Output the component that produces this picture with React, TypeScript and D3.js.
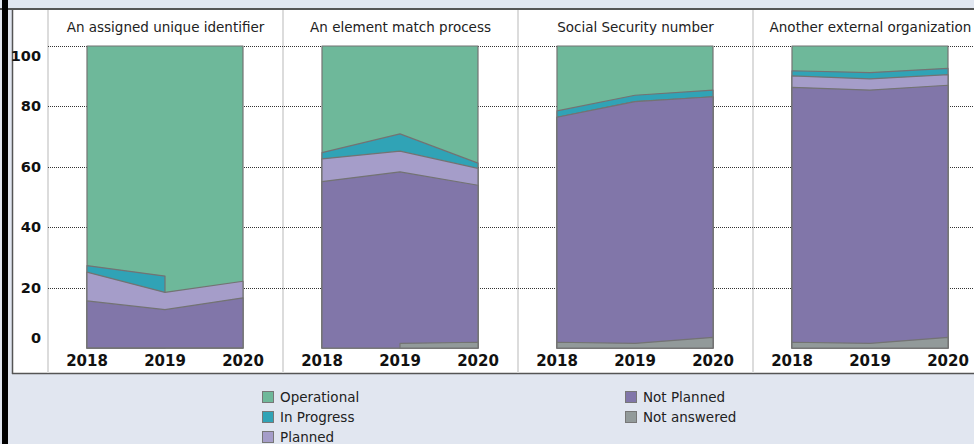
import React from 'react';
import * as d3 from 'd3';

const years = ['2018', '2019', '2020'];
const facets = [
  'An assigned unique identifier',
  'An element match process',
  'Social Security number',
  'Another external organization',
];
// Per facet, per year (percent). null = not reported for that year.
const notAnswered = [[0, 0, 0], [null, 1.5, 1.9], [1.9, 1.5, 3.5], [1.9, 1.5, 3.5]];
const notPlanned = [[15.6, 12.7, 16.6], [55.1, 56.8, 52.0], [74.5, 80.1, 79.7], [84.4, 83.9, 83.5]];
const planned = [[9.5, 5.7, 5.5], [7.5, 6.9, 5.6], [0, 0, 0], [3.8, 3.7, 3.5]];
const inProgress = [[2.2, 5.4, null], [2.1, 5.7, 1.7], [2.1, 2.1, 2.2], [1.7, 2.1, 2.1]];
const operational = [[72.7, 76.2, 77.9], [35.3, 29.1, 38.8], [21.5, 16.3, 14.6], [8.2, 8.8, 7.4]];

const seriesNames = ['Not answered', 'Not Planned', 'Planned', 'In Progress', 'Operational'];
const seriesValues = [notAnswered, notPlanned, planned, inProgress, operational];
const seriesColors = ['#929a9a', '#8176a9', '#a59dc9', '#30a3b6', '#6eb89a'];
const yTicks = [0, 20, 40, 60, 80, 100];

const legendCol1 = ['Operational', 'In Progress', 'Planned'];
const legendCol2 = ['Not Planned', 'Not answered'];

const W = 974;
const H = 444;
const FONT = '"DejaVu Sans", Verdana, sans-serif';

export default function App() {
  const facetScale = d3.scaleBand<string>().domain(facets).range([48, 48 + 4 * 235]).padding(0);
  const y = d3.scaleLinear().domain([0, 100]).range([348, 46]);
  const gridTicks = yTicks.filter((t) => t > 0);

  const panels = facets.map((f, fi) => {
    const left = (facetScale(f) as number) + 39;
    const x = d3.scalePoint<string>().domain(years).range([left, left + 156]);
    const cum: number[][] = years.map((_, yi) => {
      let acc = 0;
      return seriesValues.map((s) => {
        const v = s[fi][yi];
        acc += v == null ? 0 : v;
        return acc;
      });
    });
    const layers = seriesNames.map((name, si) => {
      const pts = years.map((yr, yi) => ({
        yr,
        top: cum[yi][si],
        defined: seriesValues[si][fi][yi] != null,
      }));
      const area = d3
        .area<{ yr: string; top: number; defined: boolean }>()
        .defined((d) => d.defined)
        .x((d) => x(d.yr) as number)
        .y0(y(0))
        .y1((d) => y(d.top));
      return { name, color: seriesColors[si], path: area(pts) || '' };
    });
    return { f, fi, x, layers, center: (facetScale(f) as number) + facetScale.bandwidth() / 2 };
  });

  return (
    <svg
      width={W}
      height={H}
      style={{ position: 'absolute', left: 0, top: 0, display: 'block', fontFamily: FONT }}
    >
      <rect x={0} y={0} width={W} height={H} fill="#e1e6f0" />
      <rect x={12} y={9} width={W - 12} height={365} fill="#ffffff" />
      <line x1={0} x2={W} y1={9} y2={9} stroke="#555" strokeWidth={2} />
      <line x1={12} x2={W} y1={373.5} y2={373.5} stroke="#555" strokeWidth={1.5} />
      <line x1={12.5} x2={12.5} y1={9} y2={374} stroke="#555" strokeWidth={1.5} />
      <rect x={2} y={0} width={6} height={H} fill="#000" />

      {facets.map((f) => (
        <line
          key={'sep' + f}
          x1={facetScale(f) as number}
          x2={facetScale(f) as number}
          y1={10}
          y2={373}
          stroke="#dcdcdc"
          strokeWidth={2}
        />
      ))}

      {gridTicks.map((t) => (
        <line
          key={'g' + t}
          x1={48}
          x2={W}
          y1={Math.round(y(t)) + 0.5}
          y2={Math.round(y(t)) + 0.5}
          stroke="#333"
          strokeWidth={1}
          strokeDasharray="1,1"
        />
      ))}

      {yTicks.map((t) => (
        <text
          key={'yt' + t}
          x={41}
          y={Math.min(338, Math.max(56, y(t)))}
          textAnchor="end"
          dominantBaseline="central"
          fontSize={14.5}
          fontWeight="bold"
          fill="#111"
        >
          {t}
        </text>
      ))}

      {panels.map((p) => (
        <g key={p.f}>
          <text
            x={p.center}
            y={27}
            textAnchor="middle"
            dominantBaseline="central"
            fontSize={13.5}
            fill="#222"
          >
            {p.f}
          </text>
          {[...p.layers].reverse().map((l) => (
            <path key={l.name} d={l.path} fill={l.color} stroke="#737373" strokeWidth={1.2} strokeLinejoin="round" />
          ))}
          {years.map((yr) => (
            <text
              key={yr}
              x={p.x(yr) as number}
              y={361}
              textAnchor="middle"
              dominantBaseline="central"
              fontSize={15}
              fontWeight="bold"
              fill="#111"
            >
              {yr}
            </text>
          ))}
        </g>
      ))}

      {legendCol1.map((name, i) => (
        <g key={name} transform={`translate(262, ${397 + i * 20})`}>
          <rect x={0.5} y={-5.5} width={11} height={11} fill={seriesColors[seriesNames.indexOf(name)]} stroke="#777" />
          <text x={18} y={0} dominantBaseline="central" fontSize={13.5} fill="#222">
            {name}
          </text>
        </g>
      ))}
      {legendCol2.map((name, i) => (
        <g key={name} transform={`translate(625, ${397 + i * 20})`}>
          <rect x={0.5} y={-5.5} width={11} height={11} fill={seriesColors[seriesNames.indexOf(name)]} stroke="#777" />
          <text x={18} y={0} dominantBaseline="central" fontSize={13.5} fill="#222">
            {name}
          </text>
        </g>
      ))}
    </svg>
  );
}
